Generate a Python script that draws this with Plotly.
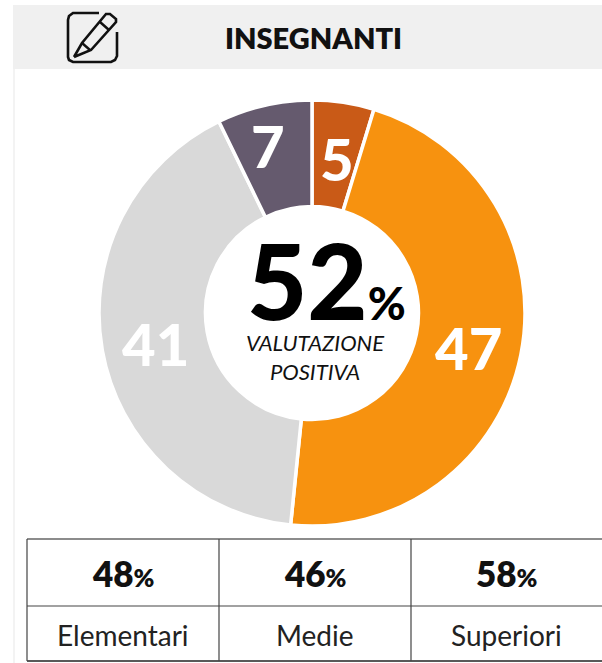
import plotly.graph_objects as go

W, H = 602, 663
# Data
categories = ["Molto", "Abbastanza", "Poco", "Per niente"]
values = [4.7, 46.9, 41.2, 7.2]
colors = ["#C95A17", "#F7920F", "#D9D9D9", "#655A6E"]
title = "INSEGNANTI"
total_positive = "52"
school_levels = ["Elementari", "Medie", "Superiori"]
school_values = [48, 46, 58]

FONT = "Lato"
def X(p): return p / W
def Y(p): return 1 - p / H

fig = go.Figure(go.Pie(
    labels=categories, values=values, sort=False, direction="clockwise", rotation=0,
    hole=0.5, textinfo="none", hoverinfo="label+value",
    marker=dict(colors=colors, line=dict(color="white", width=3.5)),
    domain=dict(x=[X(99), X(525)], y=[Y(526), Y(100)]), showlegend=False,
))

shapes = []
def rect(x0, y0, x1, y1, fill=None, line=None, w=1):
    shapes.append(dict(type="rect", xref="paper", yref="paper", x0=X(x0), x1=X(x1), y0=Y(y0), y1=Y(y1),
                       fillcolor=fill or "rgba(0,0,0,0)", line=dict(color=line or "rgba(0,0,0,0)", width=w if line else 0), layer="below"))
def seg(x0, y0, x1, y1, color="#333333", w=1.2):
    shapes.append(dict(type="line", xref="paper", yref="paper", x0=X(x0), x1=X(x1), y0=Y(y0), y1=Y(y1),
                       line=dict(color=color, width=w)))
# Header band and faint left edge
rect(13, 5, 602, 69, fill="#F0F0F0")
rect(13, 69, 15, 663, fill="#F3F3F3")
# Table
ty0, ty1, ty2 = 539, 606, 661
txs = [27, 219, 411, 602]
seg(27, ty0, 602, ty0, "#666666", 1.4)
seg(27, ty1, 602, ty1, "#444444", 1.2)
seg(27, ty2, 602, ty2, "#222222", 1.4)
for x in txs[:3]:
    seg(x, ty0, x, ty2, "#444444", 1.2)

# Pencil icon
def path(d, w=2.6):
    shapes.append(dict(type="path", xref="paper", yref="paper", path=d, line=dict(color="#111111", width=w),
                       fillcolor="rgba(0,0,0,0)"))
def pth(points, close=False):
    s = "M " + " L ".join(f"{X(a):.5f},{Y(b):.5f}" for a, b in points)
    return s + (" Z" if close else "")
path(pth([(99, 13), (73, 13), (69, 16), (68, 20), (68, 57), (69, 60), (73, 62), (111, 62), (115, 60), (117, 56), (117, 32)]))
path(pth([(74, 57), (82, 43), (106, 14), (110, 14), (116, 19), (116, 22), (91, 50), (74, 57)]))
path(pth([(100, 22), (109, 30)]), 2.4)
path(pth([(82, 43), (90, 50)]), 2.4)

annotations = []
def txt(x, y, t, size, color="black", weight=400, italic=False):
    s = f"<i>{t}</i>" if italic else t
    annotations.append(dict(x=X(x), y=Y(y), xref="paper", yref="paper", text=s, showarrow=False,
                            font=dict(family=FONT, size=size, color=color, weight=weight), xanchor="center", yanchor="middle"))

txt(313, 37, title, 29, "#111111", weight=800)

# Slice labels
label_pos = [(337, 158), (468, 347), (155, 343), (268, 145)]
for v, (x, y) in zip(values, label_pos):
    txt(x, y, str(round(v)), 58, "white", weight=900)

# Centre
annotations.append(dict(x=X(326), y=Y(279), xref="paper", yref="paper", showarrow=False, xanchor="center", yanchor="middle",
                        text=f"<span style='font-size:104px'>{total_positive}</span><span style='font-size:46px'>%</span>",
                        font=dict(family=FONT, color="black", weight=900)))
txt(315, 342, "VALUTAZIONE", 22, "#111111", italic=True)
txt(315, 371, "POSITIVA", 22, "#111111", italic=True)

# Table text
for i, (lev, v) in enumerate(zip(school_levels, school_values)):
    cx = (txs[i] + txs[i + 1]) / 2
    annotations.append(dict(x=X(cx), y=Y(573), xref="paper", yref="paper", showarrow=False, xanchor="center", yanchor="middle",
                            text=f"<span style='font-size:35px'>{v}</span><span style='font-size:25px'>%</span>",
                            font=dict(family=FONT, color="#111111", weight=800)))
    txt(cx, 635, lev, 28, "#222222")

fig.update_layout(width=W, height=H, margin=dict(l=0, r=0, t=0, b=0), paper_bgcolor="white",
                  plot_bgcolor="white", shapes=shapes, annotations=annotations, showlegend=False)
fig.write_html("out.html", config={"displayModeBar": False},
               post_script="document.documentElement.style.overflow='hidden';document.body.style.margin='0';document.body.style.padding='0';")
